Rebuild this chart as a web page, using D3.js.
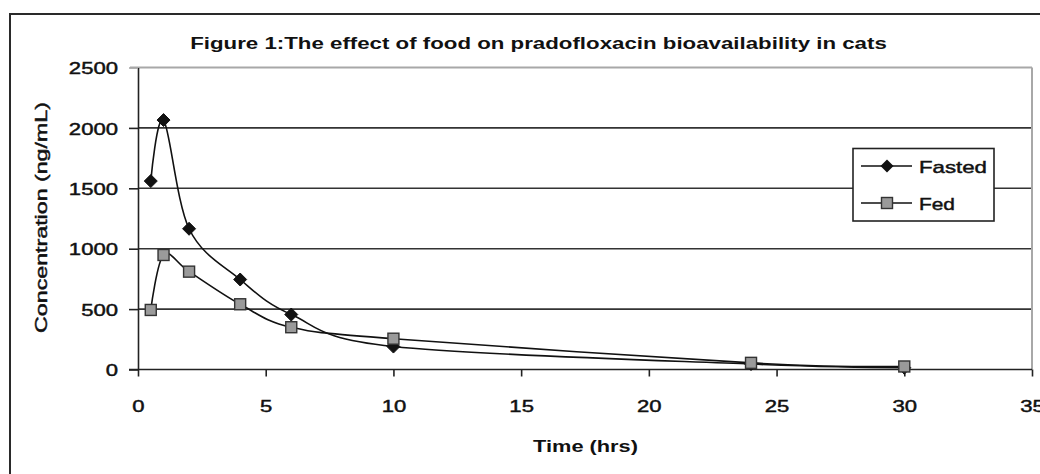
<!DOCTYPE html>
<html>
<head>
<meta charset="utf-8">
<script src="https://cdn.jsdelivr.net/npm/d3@7"></script>
<style>
  html, body { margin: 0; padding: 0; background: #fff; }
  svg { display: block; }
  text { font-family: "Liberation Sans", Arial, sans-serif; fill: #111; }
</style>
</head>
<body>
<svg id="chart" width="1040" height="474"></svg>
<script>
// ---- data ----
const times = [0.5, 1, 2, 4, 6, 10, 24, 30];
const fasted = [1560, 2065, 1165, 745, 455, 190, 45, 15];
const fed = [493, 948, 810, 540, 350, 255, 55, 25];
const xTicks = [0, 5, 10, 15, 20, 25, 30, 35];
const yTicks = [0, 500, 1000, 1500, 2000, 2500];
const seriesNames = ["Fasted", "Fed"];
const titleText = "Figure 1:The effect of food on pradofloxacin bioavailability in cats";
const xLabel = "Time (hrs)";
const yLabel = "Concentration (ng/mL)";

const svg = d3.select("#chart");
const W = 1040, H = 474;
const plot = { left: 138, right: 1032, top: 67.5, bottom: 369.5 };

const x = d3.scaleLinear().domain([0, 35]).range([plot.left, plot.right]);
const y = d3.scaleLinear().domain([0, 2500]).range([plot.bottom, plot.top]);

// helper: horizontally stretch text to a target width
function fit(sel, target, tx, ty, rot) {
  sel.each(function () {
    const w = this.getComputedTextLength();
    const s = target / w;
    d3.select(this).attr("transform",
      `translate(${tx},${ty})` + (rot ? ` rotate(${rot})` : "") + ` scale(${s},1)`);
  });
}

// outer frame (right and bottom fall outside the picture)
svg.append("rect")
  .attr("x", 10).attr("y", 14).attr("width", W + 20).attr("height", H + 20)
  .attr("fill", "#fff").attr("stroke", "#2a2a2a").attr("stroke-width", 2);

// gridlines
svg.append("g").selectAll("line").data(yTicks.filter(d => d > 0 && d < 2500)).join("line")
  .attr("x1", plot.left).attr("x2", plot.right)
  .attr("y1", d => y(d)).attr("y2", d => y(d))
  .attr("stroke", "#333").attr("stroke-width", 1.6);

// top and right border of plot area (grey)
svg.append("line").attr("x1", plot.left - 8).attr("x2", plot.right)
  .attr("y1", y(2500)).attr("y2", y(2500)).attr("stroke", "#a8a8a8").attr("stroke-width", 2);
svg.append("line").attr("x1", plot.right).attr("x2", plot.right)
  .attr("y1", y(2500)).attr("y2", y(0)).attr("stroke", "#a8a8a8").attr("stroke-width", 2);

// axes
const yAxis = svg.append("g").attr("transform", `translate(${plot.left},0)`)
  .call(d3.axisLeft(y).tickValues(yTicks).tickFormat(d3.format("d"))
    .tickSize(9).tickSizeOuter(0).tickPadding(0));
const xAxis = svg.append("g").attr("transform", `translate(0,${plot.bottom})`)
  .call(d3.axisBottom(x).tickValues(xTicks).tickFormat(d3.format("d"))
    .tickSize(7).tickSizeOuter(0).tickPadding(0));

[yAxis, xAxis].forEach(g => {
  g.select(".domain").attr("stroke", "#222").attr("stroke-width", 1.6);
  g.selectAll(".tick line").attr("stroke", "#222").attr("stroke-width", 1.6);
});
xAxis.select(".domain").remove();
svg.append("line").attr("x1", plot.left - 9).attr("x2", plot.right)
  .attr("y1", plot.bottom).attr("y2", plot.bottom).attr("stroke", "#222").attr("stroke-width", 1.6);
yAxis.selectAll(".tick").filter(d => d === 2500).select("line").attr("stroke", "#a8a8a8");

yAxis.selectAll(".tick text")
  .attr("font-size", 17).attr("font-family", "Liberation Sans, Arial, sans-serif")
  .attr("fill", "#111").attr("stroke", "#111").attr("stroke-width", 0.45)
  .attr("x", 0).attr("dy", "0.36em").attr("text-anchor", "end")
  .attr("transform", `translate(-20,0) scale(1.3,1)`);
xAxis.selectAll(".tick text")
  .attr("font-size", 17).attr("font-family", "Liberation Sans, Arial, sans-serif")
  .attr("fill", "#111").attr("stroke", "#111").attr("stroke-width", 0.45)
  .attr("y", 0).attr("dy", 0)
  .attr("transform", `translate(0,42) scale(1.3,1)`);

// lines
const line = d3.line().x(d => x(d[0])).y(d => y(d[1])).curve(d3.curveCatmullRom.alpha(0));
const fastedPts = times.map((t, i) => [t, fasted[i]]);
const fedPts = times.map((t, i) => [t, fed[i]]);

svg.append("path").datum(fedPts).attr("d", line)
  .attr("fill", "none").attr("stroke", "#111").attr("stroke-width", 1.6);
svg.append("path").datum(fastedPts).attr("d", line)
  .attr("fill", "none").attr("stroke", "#111").attr("stroke-width", 1.6);

function drawDiamonds(g, pts) {
  g.selectAll("path.dm").data(pts).join("path").attr("class", "dm")
    .attr("d", "M0,-6.5L6.5,0L0,6.5L-6.5,0Z")
    .attr("transform", d => `translate(${x(d[0])},${y(d[1])})`)
    .attr("fill", "#111").attr("stroke", "#111").attr("stroke-width", 1);
}
function drawSquares(g, pts) {
  g.selectAll("rect.sq").data(pts).join("rect").attr("class", "sq")
    .attr("x", d => x(d[0]) - 5.5).attr("y", d => y(d[1]) - 5.5)
    .attr("width", 11).attr("height", 11)
    .attr("fill", "#9a9a9a").attr("stroke", "#333").attr("stroke-width", 1.4);
}
drawDiamonds(svg.append("g"), fastedPts);
drawSquares(svg.append("g"), fedPts);

// legend
const lg = svg.append("g");
lg.append("rect").attr("x", 853).attr("y", 148.5).attr("width", 141).attr("height", 72.5)
  .attr("fill", "#fff").attr("stroke", "#222").attr("stroke-width", 1.6);
const legendY = [166, 203];
seriesNames.forEach((name, i) => {
  const ly = legendY[i];
  lg.append("line").attr("x1", 861).attr("x2", 912).attr("y1", ly).attr("y2", ly)
    .attr("stroke", "#111").attr("stroke-width", 1.6);
  if (i === 0) {
    lg.append("path").attr("d", "M0,-6.5L6.5,0L0,6.5L-6.5,0Z")
      .attr("transform", `translate(887,${ly})`).attr("fill", "#111");
  } else {
    lg.append("rect").attr("x", 881.5).attr("y", ly - 5.5).attr("width", 11).attr("height", 11)
      .attr("fill", "#9a9a9a").attr("stroke", "#333").attr("stroke-width", 1.4);
  }
  lg.append("text").text(name).attr("font-size", 17).attr("text-anchor", "start")
    .attr("stroke", "#111").attr("stroke-width", 0.45)
    .call(fit, i === 0 ? 68 : 36, 919, ly + 7);
});

// title
svg.append("text").text(titleText).attr("font-size", 16.5).attr("font-weight", "bold")
  .attr("text-anchor", "middle").call(fit, 697, 538.5, 49);

// axis titles
svg.append("text").text(xLabel).attr("font-size", 17).attr("font-weight", "bold")
  .attr("text-anchor", "middle").call(fit, 105, 585.5, 452);
svg.append("text").text(yLabel).attr("font-size", 17)
  .attr("stroke", "#111").attr("stroke-width", 0.45)
  .attr("text-anchor", "middle").call(fit, 231, 47, 217.5, -90);
</script>
</body>
</html>
